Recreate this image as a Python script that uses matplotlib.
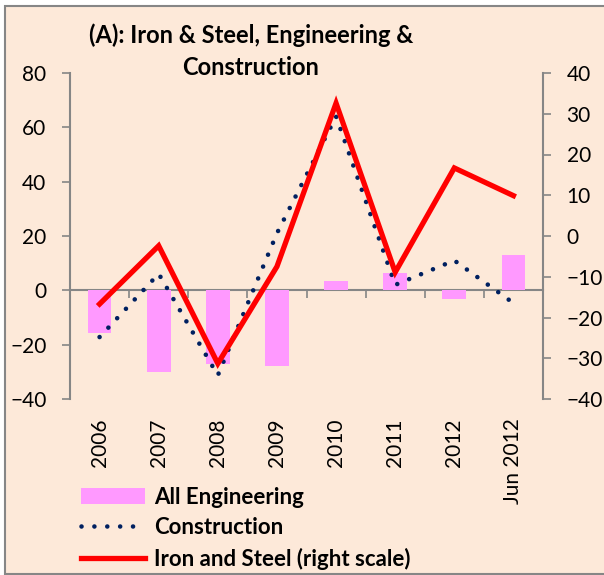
import numpy as np
import matplotlib
matplotlib.use("Agg")
import matplotlib.pyplot as plt
from matplotlib.patches import Rectangle

plt.rcParams['font.family'] = ['Lato', 'DejaVu Sans']

# data
years = ['2006', '2007', '2008', '2009', '2010', '2011', '2012', 'Jun 2012']
all_eng = [-15.7, -29.9, -27.1, -27.9, 3.4, 6.3, -3.3, 12.9]
construction = [-17.2, 6.1, -31.3, 21.0, 64.0, 2.0, 11.0, -4.7]
iron_steel = [-16.7, -2.4, -31.3, -7.5, 32.6, -8.9, 16.7, 9.9]

bg = '#FDE9D9'
grey = '#868686'

fig = plt.figure(figsize=(6.04, 5.75), dpi=100, facecolor='white')
fig.patches.append(Rectangle((5/604, 1/575), 1.0, 568/575, transform=fig.transFigure,
                             facecolor=bg, edgecolor=grey, lw=1.5, zorder=-10))

ax = fig.add_axes([70/604, 1 - 399/575, 473/604, 326/575])
ax.set_facecolor('none')
x = np.arange(len(years))

bars = ax.bar(x, all_eng, width=0.4, color='#FF99FF', label='All Engineering', zorder=2)
cons, = ax.plot(x, construction, color='#002060', lw=3.3, linestyle=(0, (0.01, 2.8)),
                dash_capstyle='round', label='Construction', zorder=3)

ax2 = ax.twinx()
iron, = ax2.plot(x, iron_steel, color='#FF0000', lw=3.8, solid_joinstyle='miter',
                 label='Iron and Steel (right scale)', zorder=4)

ax.set_xlim(-0.5, len(years) - 0.5)
ax.set_ylim(-40, 80)
ax.set_yticks(np.arange(-40, 81, 20))
ax2.set_ylim(-40, 40)
ax2.set_yticks(np.arange(-40, 41, 10))

for a in (ax, ax2):
    a.spines['top'].set_visible(False)
    a.spines['bottom'].set_visible(False)
    a.spines['left'].set_color(grey)
    a.spines['right'].set_color(grey)
    a.spines['left'].set_linewidth(1.5)
    a.spines['right'].set_linewidth(1.5)
ax.spines['right'].set_visible(False)
ax2.spines['left'].set_visible(False)

ax.tick_params(axis='y', length=6, width=1.2, color=grey, labelsize=15, pad=11)
ax2.tick_params(axis='y', length=6, width=1.2, color=grey, labelsize=15, pad=11)

ax.set_xticks(x)
ax.set_xticklabels(years, rotation=90, fontsize=15, va='top')
ax.tick_params(axis='x', length=0, pad=14)

# horizontal axis line at zero with category boundary ticks
zero_pos = (0 - ax.get_ylim()[0]) / (ax.get_ylim()[1] - ax.get_ylim()[0])
sec = ax.secondary_xaxis(zero_pos)
sec.set_xticks(np.arange(-0.5, len(years), 1.0))
sec.tick_params(axis='x', direction='out', length=6, width=1.2, color=grey, labelbottom=False,
                labeltop=False)
sec.xaxis.set_ticks_position('bottom')
sec.spines['bottom'].set_color(grey)
sec.spines['bottom'].set_linewidth(1.5)
sec.spines['top'].set_visible(False)
sec.set_xticklabels([])

fig.text(251/604, 1 - 51/575, '(A): Iron & Steel, Engineering &\nConstruction', ha='center',
         va='center', fontsize=17, fontweight='bold', linespacing=1.5)

fig.legend(handles=[bars, cons, iron], loc='upper left', bbox_to_anchor=(72/604, 1 - 478/575),
           frameon=False, prop={'weight': 'bold', 'size': 16}, handlelength=2.9,
           handletextpad=0.4, labelspacing=0.42, borderaxespad=0)

fig.savefig('out.png', dpi=100, facecolor='white')
